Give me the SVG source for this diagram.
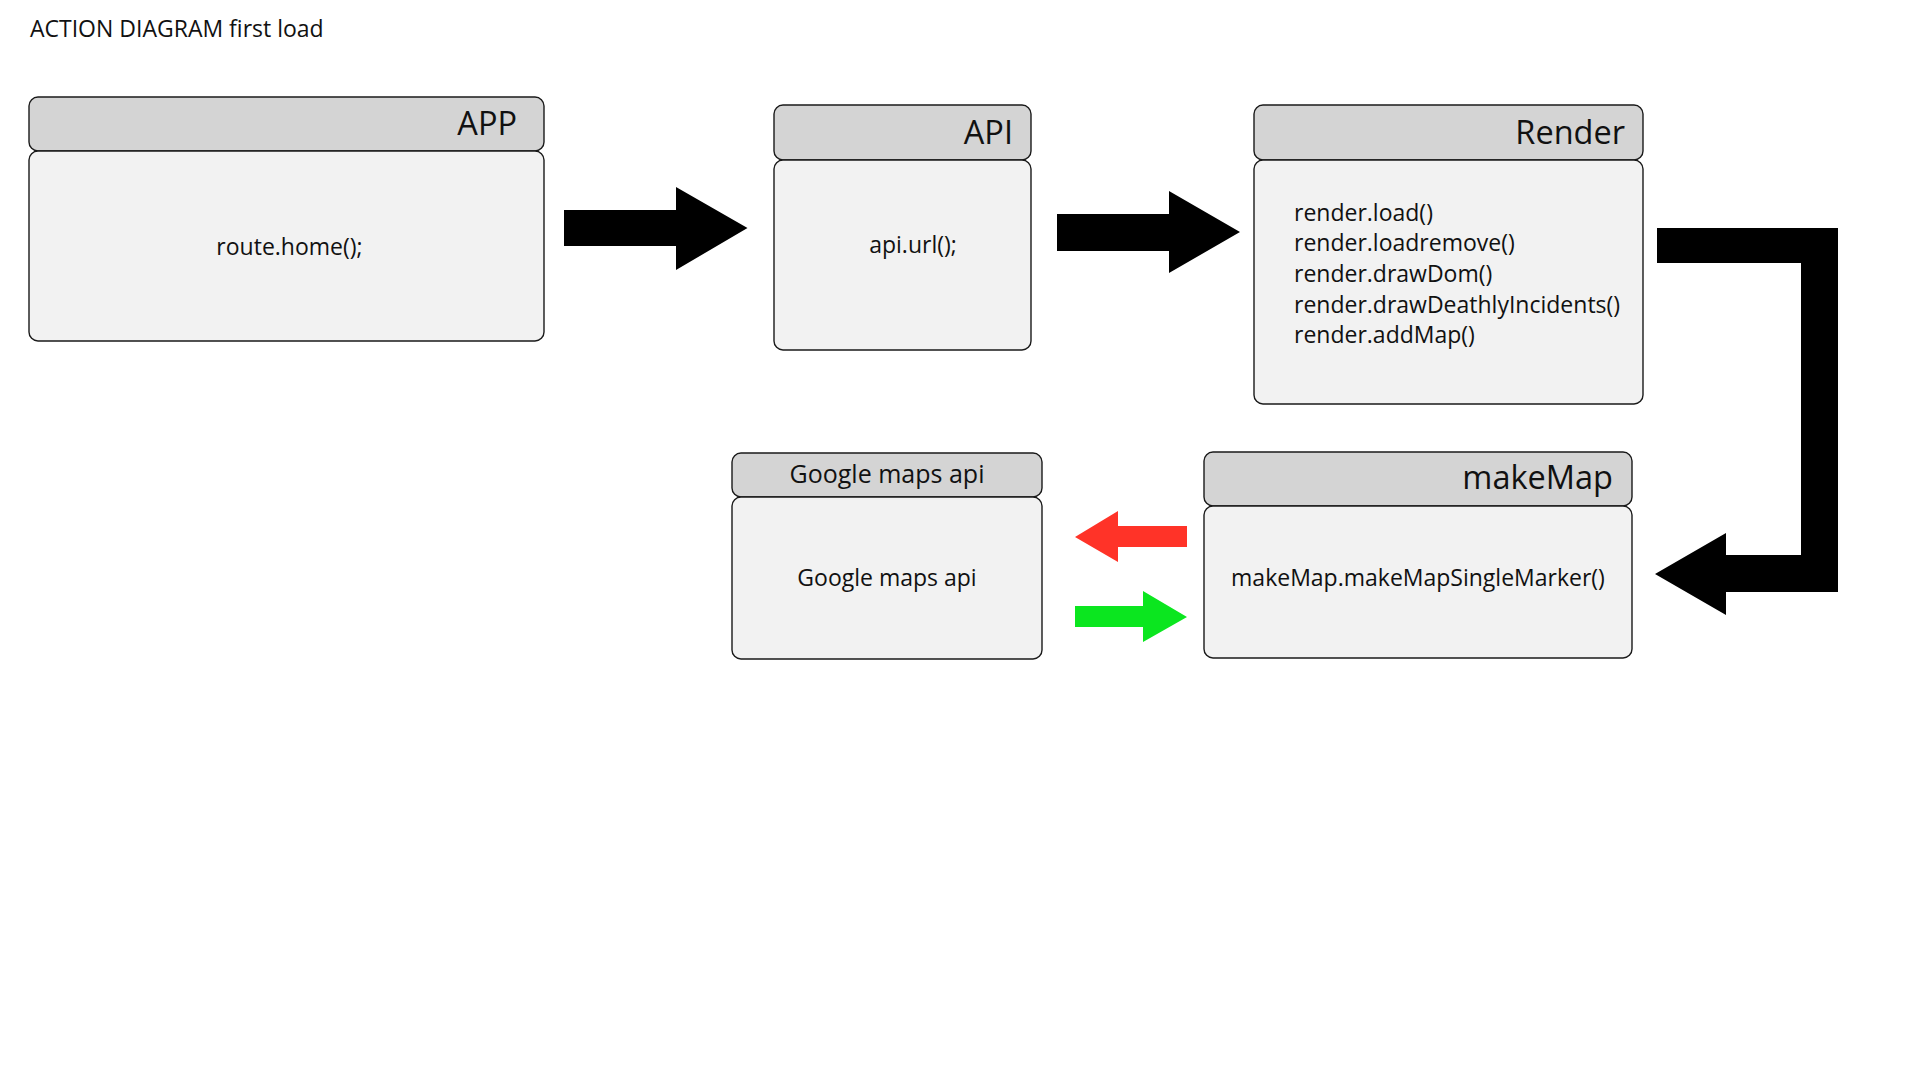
<svg xmlns="http://www.w3.org/2000/svg" width="1920" height="1080" viewBox="0 0 1920 1080">
  <style>
    text { font-family: "Open Sans", "Liberation Sans", sans-serif; fill: #111; }
    .hdr { fill: #d4d4d4; stroke: #1a1a1a; stroke-width: 1.4; }
    .body { fill: #f2f2f2; stroke: #1a1a1a; stroke-width: 1.4; }
    .title { font-size: 32.5px; text-anchor: end; }
    .txt { font-size: 23px; }
    .mid { text-anchor: middle; }
    .black { fill: #000; }
    .red { fill: #ff3328; }
    .green { fill: #0be61f; }
  </style>
  <rect width="1920" height="1080" fill="#ffffff"/>
  <text x="30" y="37" class="txt">ACTION DIAGRAM first load</text>

  <g id="app">
    <rect class="hdr" x="29" y="97" width="515" height="54" rx="9"/>
    <rect class="body" x="29" y="151" width="515" height="190" rx="9"/>
    <text x="517" y="134.5" class="title">APP</text>
    <text x="289.5" y="255" class="txt mid">route.home();</text>
  </g>

  <g id="api">
    <rect class="hdr" x="774" y="105" width="257" height="55" rx="9"/>
    <rect class="body" x="774" y="160" width="257" height="190" rx="9"/>
    <text x="1013" y="143.5" class="title">API</text>
    <text x="913" y="252.5" class="txt mid">api.url();</text>
  </g>

  <g id="render">
    <rect class="hdr" x="1254" y="105" width="389" height="55" rx="9"/>
    <rect class="body" x="1254" y="160" width="389" height="244" rx="9"/>
    <text x="1625" y="143.5" class="title">Render</text>
    <text x="1294" y="220.5" class="txt">render.load()</text>
    <text x="1294" y="251.2" class="txt">render.loadremove()</text>
    <text x="1294" y="281.9" class="txt">render.drawDom()</text>
    <text x="1294" y="312.6" class="txt">render.drawDeathlyIncidents()</text>
    <text x="1294" y="343.3" class="txt">render.addMap()</text>
  </g>

  <g id="makemap">
    <rect class="hdr" x="1204" y="452" width="428" height="54" rx="9"/>
    <rect class="body" x="1204" y="506" width="428" height="152" rx="9"/>
    <text x="1613" y="488.5" class="title">makeMap</text>
    <text x="1418" y="585.5" class="txt mid">makeMap.makeMapSingleMarker()</text>
  </g>

  <g id="googlemaps">
    <rect class="hdr" x="732" y="453" width="310" height="44" rx="9"/>
    <rect class="body" x="732" y="497" width="310" height="162" rx="9"/>
    <text x="887" y="483" class="mid" style="font-size:25px">Google maps api</text>
    <text x="887" y="586" class="txt mid">Google maps api</text>
  </g>

  <g id="connectors">
    <polygon class="black" points="564,210 676,210 676,187 747.5,228 676,270 676,246 564,246"/>
    <polygon class="black" points="1057,214 1169,214 1169,191 1240,232 1169,273 1169,251 1057,251"/>
    <polygon class="black" points="1657,228 1838,228 1838,592 1726,592 1726,615 1655,574 1726,533 1726,555 1801,555 1801,263 1657,263"/>
    <polygon class="red" points="1187,526 1118,526 1118,511 1075,537 1118,562 1118,547 1187,547"/>
    <polygon class="green" points="1075,606 1143,606 1143,591 1187,617 1143,642 1143,627 1075,627"/>
  </g>
</svg>
